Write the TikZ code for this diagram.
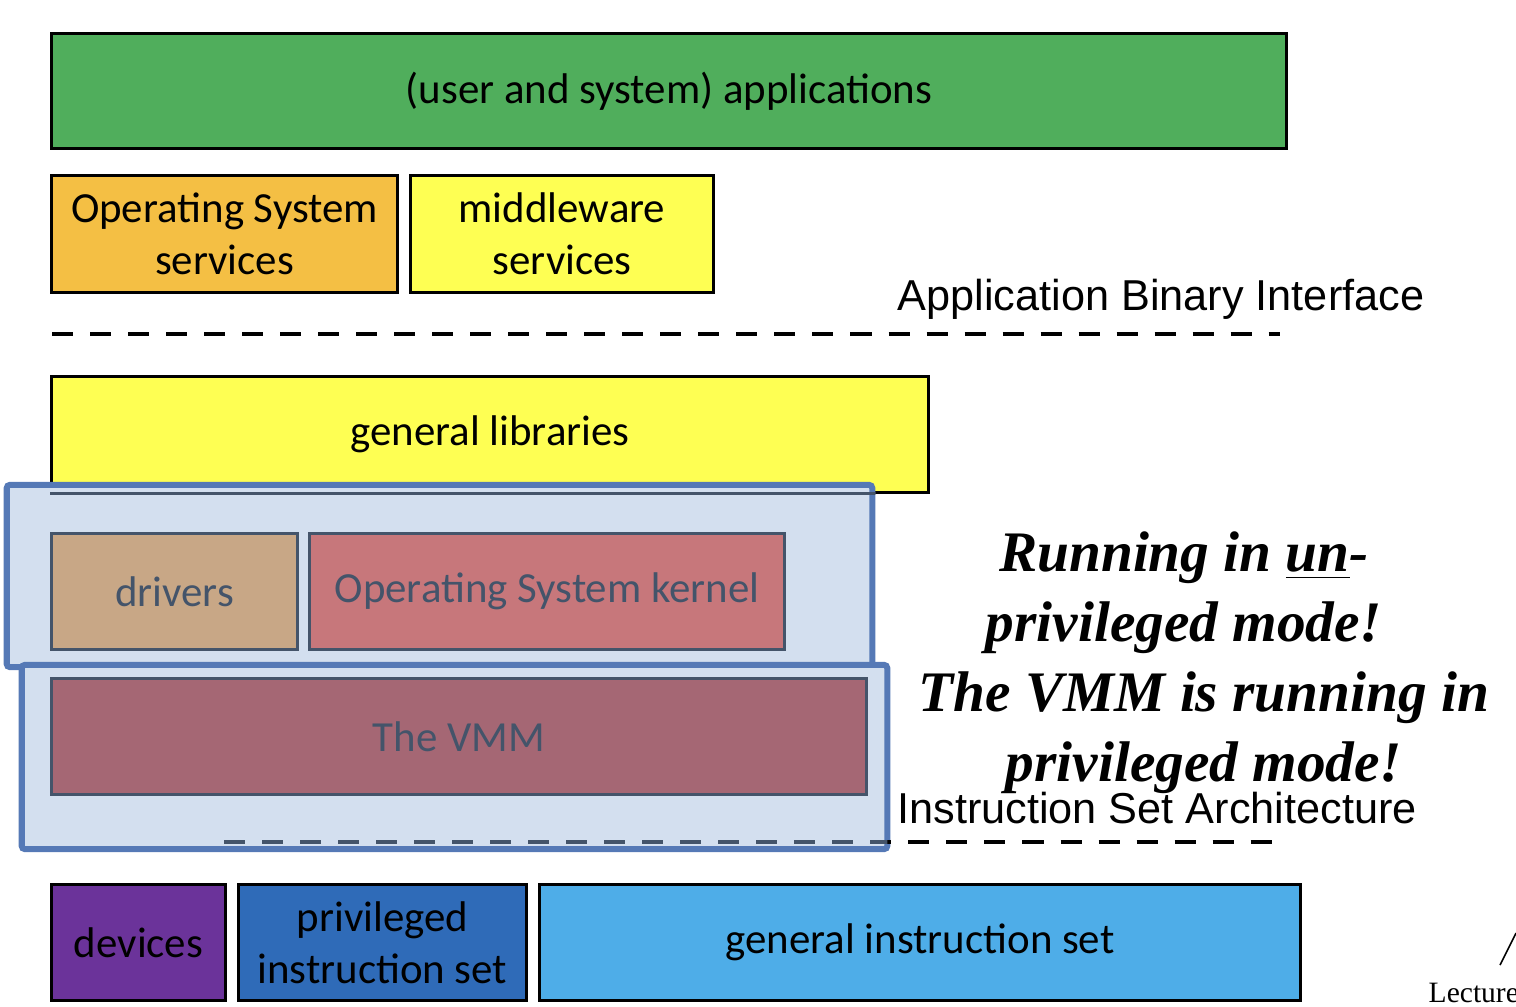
\documentclass[tikz,border=0pt]{standalone}
\usepackage{xcolor}
\usepackage{fontspec}
\setmainfont{Carlito}
\newfontfamily\arialfont{Liberation Sans}
\newfontfamily\timesfont{Liberation Serif}
\usepackage{tikz}
\usetikzlibrary{positioning}
\definecolor{appgreen}{HTML}{50AE5C}
\definecolor{osorange}{HTML}{F4BF44}
\definecolor{midyellow}{HTML}{FEFF53}
\definecolor{vmfill}{HTML}{D3DFEF}
\definecolor{vmedge}{HTML}{5579B6}
\definecolor{slate}{HTML}{44546A}
\definecolor{drvtan}{HTML}{C8A786}
\definecolor{kernred}{HTML}{C7777B}
\definecolor{vmmred}{HTML}{A56774}
\definecolor{devpurple}{HTML}{6B339A}
\definecolor{privblue}{HTML}{2F6BB8}
\definecolor{genblue}{HTML}{4EADE8}

\begin{document}
\begin{tikzpicture}[x=0.01cm, y=-0.01cm,
	layer/.style={draw=black, line width=0.03cm, inner sep=0pt, align=center, font=\fontsize{12.2}{14.8}\selectfont},
	guest/.style={layer, draw=slate, text=slate},
	vmbox/.style={draw=vmedge, fill=vmfill, line width=0.06cm, rounded corners=0.03cm, inner sep=0pt},
	iface/.style={dash pattern=on 0.21cm off 0.17cm, line width=0.04cm},
	note/.style={font=\timesfont\bfseries\itshape\fontsize{16.3}{20}\selectfont, align=center}]
	\useasboundingbox (0,0) rectangle (1516,1006);
					% upper layers
					\node[layer, fill=appgreen, minimum width=12.34cm, minimum height=1.15cm] (apps) at (669,91) {(user and system) applications};
					\node[layer, fill=osorange, minimum width=3.45cm, minimum height=1.16cm] (ossvc) at (224.5,234) {Operating System\\services};
					\node[layer, fill=midyellow, minimum width=3.02cm, minimum height=1.16cm] (midsvc) at (562,234) {middleware\\services};
					\node[font=\arialfont\fontsize{12.3}{14}\selectfont] (abi) at (1161,299) {Application Binary Interface};
					\coordinate (abiL) at (52,334);
					\coordinate (abiR) at (1280,334);
					\draw[iface] (abiL) -- (abiR);
					\node[layer, fill=midyellow, minimum width=8.76cm, minimum height=1.15cm] (libs) at (490,434.5) {general libraries};
					% guest part
					\node[vmbox, minimum width=8.65cm, minimum height=1.82cm] (guestvm) at (439.5,576) {};
					\begin{scope}
						\clip (guestvm.south west) rectangle (guestvm.north east);
						\draw[slate, line width=0.03cm] (libs.south west) -- (libs.south east);
					\end{scope}
					\node[guest, fill=drvtan, minimum width=2.45cm, minimum height=1.15cm] (drivers) at (174.5,591.5) {drivers};
					\node[guest, fill=kernred, minimum width=4.74cm, minimum height=1.15cm] (kernel) at (547,591.5) {Operating System kernel};
					% host part
					\node[vmbox, minimum width=8.65cm, minimum height=1.84cm] (hostvm) at (454.5,757) {};
					\node[guest, fill=vmmred, minimum width=8.14cm, minimum height=1.15cm] (vmm) at (459,736.5) {The VMM};
					\coordinate (isaL) at (224,842);
					\coordinate (isaR) at (1283,842);
					\draw[iface] (isaL) -- (isaR);
					\begin{scope}
						\clip ([xshift=0.03cm, yshift=-0.03cm]hostvm.south west) rectangle ([xshift=-0.03cm, yshift=0.03cm]hostvm.north east);
						\draw[iface, slate] (isaL) -- (isaR);
					\end{scope}
					\node[font=\arialfont\fontsize{12.3}{14}\selectfont] (isa) at (1157,808) {Instruction Set Architecture};
					\node[note] (unpriv) at (1184,593) {Running in \underline{un}-\\privileged mode!};
					\node[note] (priv) at (1204,733) {The VMM is running in\\privileged mode!};
					% hardware
					\node[layer, fill=devpurple, minimum width=1.73cm, minimum height=1.15cm] (devices) at (138.5,942.5) {devices};
					\node[layer, fill=privblue, minimum width=2.87cm, minimum height=1.15cm] (privis) at (382.5,942.5) {privileged\\instruction set};
					\node[layer, fill=genblue, minimum width=7.6cm, minimum height=1.15cm] (genis) at (920,942.5) {general instruction set};
					% footer
					\coordinate (slashA) at (1500,965);
					\coordinate (slashB) at (1516,933);
					\draw[line width=0.015cm] (slashA) -- (slashB);
					\node[font=\timesfont\fontsize{8.4}{10}\selectfont, anchor=west, inner sep=0pt] (lecture) at (1428,993) {Lecture};
\end{tikzpicture}
\end{document}
